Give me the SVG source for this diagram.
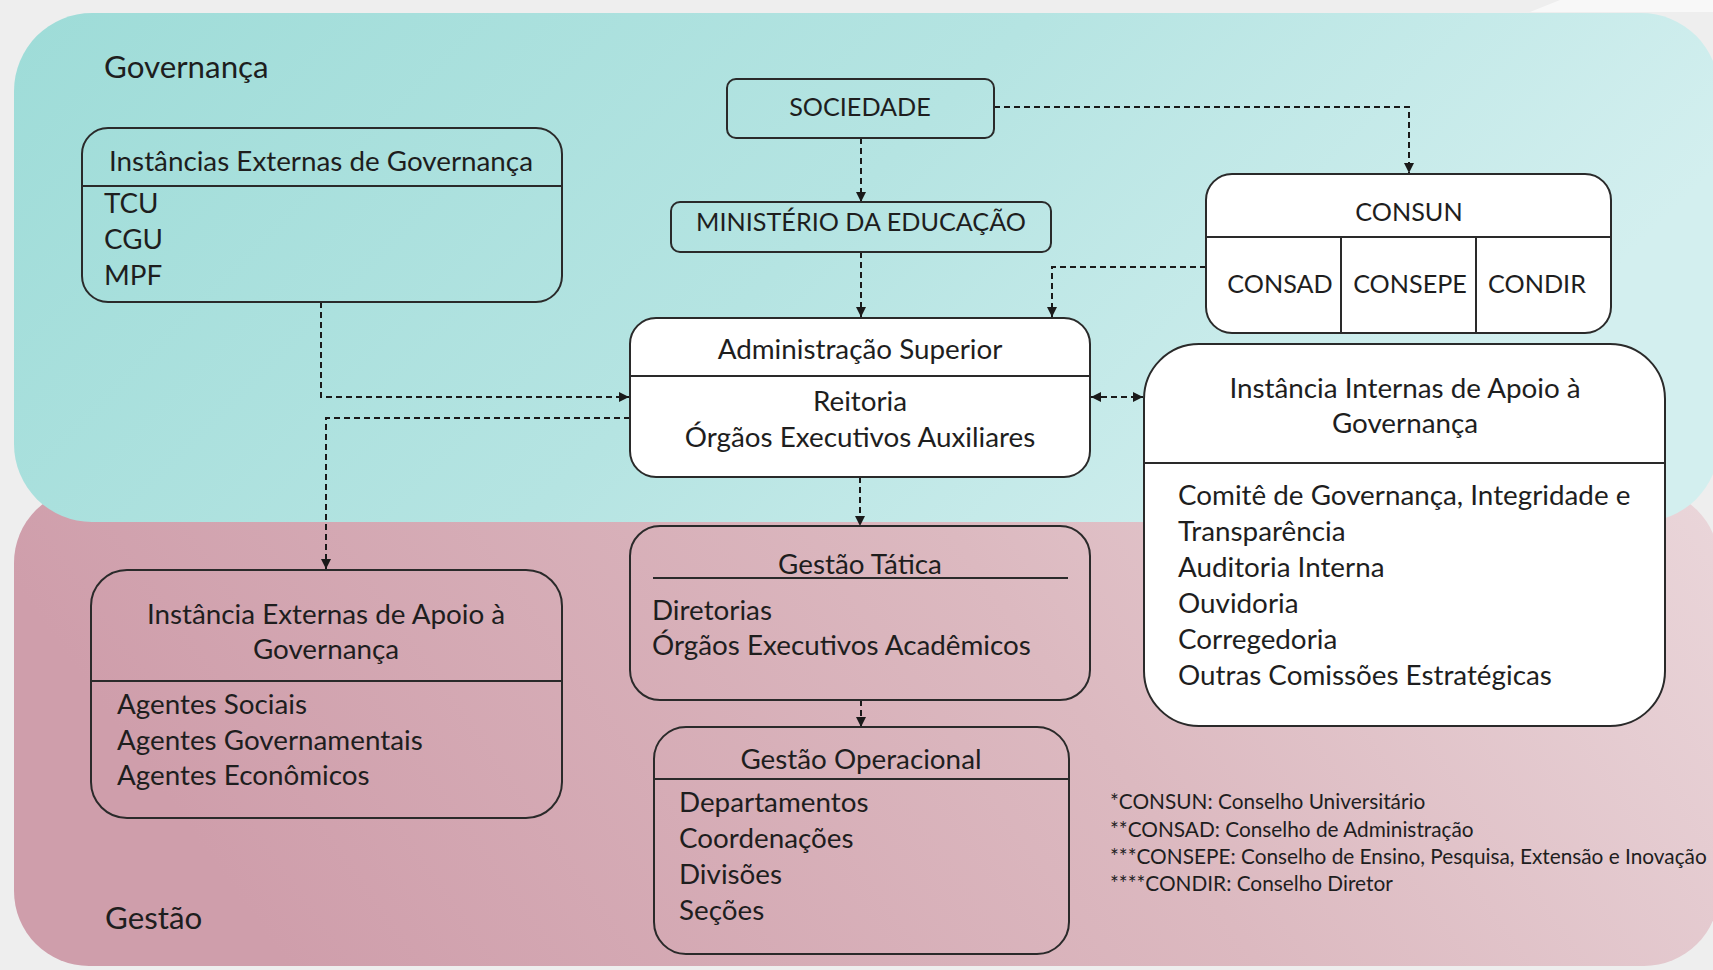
<svg xmlns="http://www.w3.org/2000/svg" width="1713" height="970" viewBox="0 0 1713 970">
<defs>
<linearGradient id="teal" x1="0" y1="0" x2="1" y2="0.3">
<stop offset="0" stop-color="#9edcd8"/>
<stop offset="0.55" stop-color="#b5e4e2"/>
<stop offset="1" stop-color="#d3efef"/>
</linearGradient>
<linearGradient id="pink" x1="0" y1="0.2" x2="1" y2="0">
<stop offset="0" stop-color="#cf9eab"/>
<stop offset="0.55" stop-color="#dcb9c0"/>
<stop offset="1" stop-color="#ead6da"/>
</linearGradient>
<marker id="ah" viewBox="0 0 10 10" refX="10" refY="5" markerWidth="10" markerHeight="10" markerUnits="userSpaceOnUse" orient="auto-start-reverse">
<path d="M0,0 L10,5 L0,10 z" fill="#1a1a1a"/>
</marker>
<style>
.t{font-family:Lato,"Open Sans","Liberation Sans",sans-serif;fill:#1e1e1e;font-size:27.8px}
.c{text-anchor:middle}
.u{font-size:25.2px}
.h{font-size:31.3px}
.lg{font-size:20.8px}
.box{fill:none;stroke:#2a2a2a;stroke-width:2}
.wb{fill:#ffffff;stroke:#2a2a2a;stroke-width:2}
.ln{stroke:#2a2a2a;stroke-width:2;fill:none}
.con{fill:none;stroke:#1a1a1a;stroke-width:2;stroke-dasharray:6 4}
</style>
</defs>
<rect x="0" y="0" width="1713" height="970" fill="#eeeeee"/>
<polygon points="1560,0 1713,0 1713,12 1530,12" fill="#f8f8f8"/>
<rect id="gestao-bg" x="14" y="488" width="1705" height="478" rx="75" fill="url(#pink)"/>
<rect id="governanca-bg" x="14" y="13" width="1705" height="509" rx="78" fill="url(#teal)"/>
<text class="t h" x="104" y="78">Governança</text>
<text class="t h" x="105" y="929">Gestão</text>

<g id="connectors">
<path class="con" d="M861,138 V202" marker-end="url(#ah)"/>
<path class="con" d="M861,252 V317" marker-end="url(#ah)"/>
<path class="con" d="M994,107 H1409 V173" marker-end="url(#ah)"/>
<path class="con" d="M1206,267 H1052 V317" marker-end="url(#ah)"/>
<path class="con" d="M321,302 V397 H629" marker-end="url(#ah)"/>
<path class="con" d="M630,418 H326 V569" marker-end="url(#ah)"/>
<path class="con" d="M1091,397 H1143" marker-start="url(#ah)" marker-end="url(#ah)"/>
<path class="con" d="M860,477 V526" marker-end="url(#ah)"/>
<path class="con" d="M861,700 V727" marker-end="url(#ah)"/>
</g>

<g id="instancias-externas-governanca">
<rect class="box" x="82" y="128" width="480" height="174" rx="26"/>
<line class="ln" x1="82" y1="186" x2="562" y2="186"/>
<text class="t c" x="321" y="171">Instâncias Externas de Governança</text>
<text class="t" x="104" y="213">TCU</text>
<text class="t" x="104" y="249">CGU</text>
<text class="t" x="104" y="285">MPF</text>
</g>

<g id="sociedade">
<rect class="box" x="727" y="79" width="267" height="59" rx="9"/>
<text class="t c u" x="860" y="116">SOCIEDADE</text>
</g>

<g id="ministerio">
<rect class="box" x="671" y="202" width="380" height="50" rx="9"/>
<text class="t c u" x="861" y="231">MINISTÉRIO DA EDUCAÇÃO</text>
</g>

<g id="consun">
<rect class="wb" x="1206" y="174" width="405" height="159" rx="26"/>
<line class="ln" x1="1206" y1="237" x2="1611" y2="237"/>
<line class="ln" x1="1341" y1="237" x2="1341" y2="333"/>
<line class="ln" x1="1476" y1="237" x2="1476" y2="333"/>
<text class="t c u" x="1409" y="221">CONSUN</text>
<text class="t c u" x="1280" y="293">CONSAD</text>
<text class="t c u" x="1410" y="293">CONSEPE</text>
<text class="t c u" x="1537" y="293">CONDIR</text>
</g>

<g id="administracao-superior">
<rect class="wb" x="630" y="318" width="460" height="159" rx="26"/>
<line class="ln" x1="630" y1="376" x2="1090" y2="376"/>
<text class="t c" x="860" y="359">Administração Superior</text>
<text class="t c" x="860" y="411">Reitoria</text>
<text class="t c" x="860" y="447">Órgãos Executivos Auxiliares</text>
</g>

<g id="instancia-internas">
<rect class="wb" x="1144" y="344" width="521" height="382" rx="55"/>
<line class="ln" x1="1144" y1="463" x2="1665" y2="463"/>
<text class="t c" x="1405" y="398">Instância Internas de Apoio à</text>
<text class="t c" x="1405" y="433">Governança</text>
<text class="t" x="1178" y="505">Comitê de Governança, Integridade e</text>
<text class="t" x="1178" y="541">Transparência</text>
<text class="t" x="1178" y="577">Auditoria Interna</text>
<text class="t" x="1178" y="613">Ouvidoria</text>
<text class="t" x="1178" y="649">Corregedoria</text>
<text class="t" x="1178" y="685">Outras Comissões Estratégicas</text>
</g>

<g id="gestao-tatica">
<rect class="box" x="630" y="526" width="460" height="174" rx="30"/>
<line class="ln" x1="653" y1="578" x2="1068" y2="578"/>
<text class="t c" x="860" y="574">Gestão Tática</text>
<text class="t" x="652" y="620">Diretorias</text>
<text class="t" x="652" y="655">Órgãos Executivos Acadêmicos</text>
</g>

<g id="gestao-operacional">
<rect class="box" x="654" y="727" width="415" height="227" rx="32"/>
<line class="ln" x1="654" y1="779" x2="1069" y2="779"/>
<text class="t c" x="861" y="769">Gestão Operacional</text>
<text class="t" x="679" y="812">Departamentos</text>
<text class="t" x="679" y="848">Coordenações</text>
<text class="t" x="679" y="884">Divisões</text>
<text class="t" x="679" y="920">Seções</text>
</g>

<g id="instancia-externas-apoio">
<rect class="box" x="91" y="570" width="471" height="248" rx="36"/>
<line class="ln" x1="91" y1="681" x2="562" y2="681"/>
<text class="t c" x="326" y="624">Instância Externas de Apoio à</text>
<text class="t c" x="326" y="659">Governança</text>
<text class="t" x="117" y="714">Agentes Sociais</text>
<text class="t" x="117" y="750">Agentes Governamentais</text>
<text class="t" x="117" y="785">Agentes Econômicos</text>
</g>

<g id="legenda">
<text class="t lg" x="1110" y="809">*CONSUN: Conselho Universitário</text>
<text class="t lg" x="1110" y="837">**CONSAD: Conselho de Administração</text>
<text class="t lg" x="1110" y="864">***CONSEPE: Conselho de Ensino, Pesquisa, Extensão e Inovação</text>
<text class="t lg" x="1110" y="891">****CONDIR: Conselho Diretor</text>
</g>
</svg>
